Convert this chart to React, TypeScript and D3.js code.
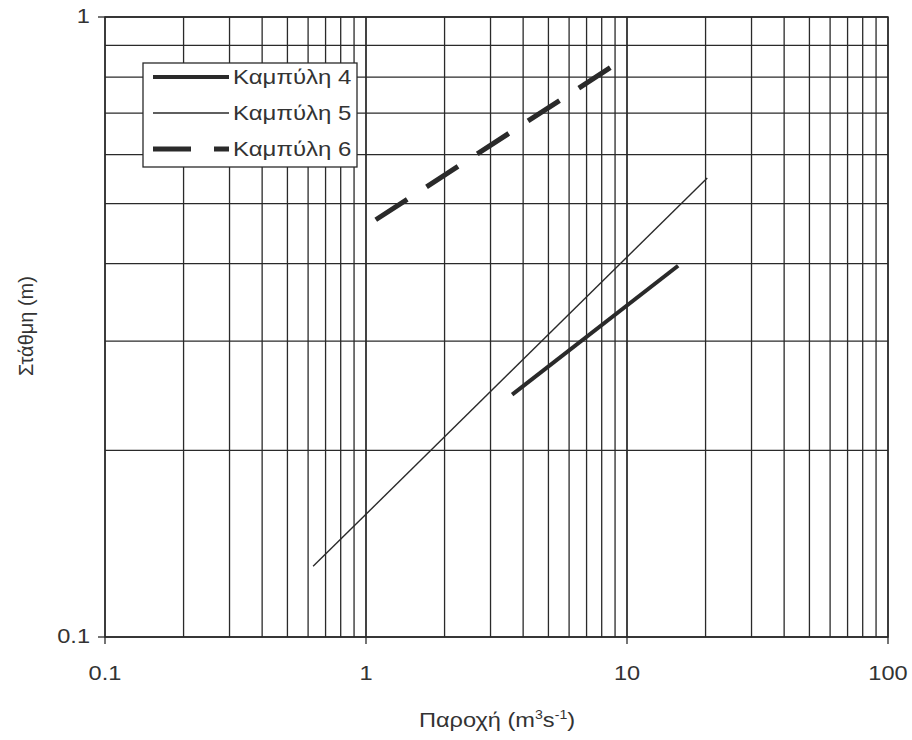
import React from "react";
import * as d3 from "d3";

// Καμπύλες στάθμης-παροχής (log-log)
const curve4Q = [3.63, 15.7];
const curve4H = [0.246, 0.397];
const curve5Q = [0.627, 20.3];
const curve5H = [0.13, 0.55];
const curve6Q = [1.09, 8.68];
const curve6H = [0.471, 0.83];

const xTickLabels = [0.1, 1, 10, 100];
const yTickLabels = [0.1, 1];
const legendNames = ["Καμπύλη 4", "Καμπύλη 5", "Καμπύλη 6"];

const INK = "#2a2a2a";
const TXT = "#333";
const FONT = "'Liberation Sans', Arial, sans-serif";
const SX = 1.18; // scanned text is a bit wide

function WideText(props: { x: number; y: number; anchor?: string; size?: number; sx?: number; children: React.ReactNode }) {
  const { x, y, anchor = "start", size = 20, sx = SX, children } = props;
  return (
    <g transform={`translate(${x},${y}) scale(${sx},1)`}>
      <text x={0} y={0} dy="0.35em" textAnchor={anchor} fontSize={size} fill={TXT}>
        {children}
      </text>
    </g>
  );
}

function App() {
  const width = 912;
  const height = 740;
  const margin = { top: 17, right: 24, bottom: 103, left: 105 };
  const innerW = width - margin.left - margin.right;
  const innerH = height - margin.top - margin.bottom;

  const x = d3.scaleLog().domain([0.1, 100]).range([0, innerW]);
  const y = d3.scaleLog().domain([0.1, 1]).range([innerH, 0]);

  const xGrid: number[] = [];
  [0.1, 1, 10].forEach((d) => {
    for (let k = 1; k <= 10; k++) xGrid.push(d * k);
  });
  const yGrid: number[] = [];
  for (let k = 1; k <= 10; k++) yGrid.push(0.1 * k);

  const line = d3
    .line<[number, number]>()
    .x((d) => x(d[0]))
    .y((d) => y(d[1]));

  const series = [
    { q: curve4Q, h: curve4H, w: 4, dash: undefined as string | undefined },
    { q: curve5Q, h: curve5H, w: 1.4, dash: undefined as string | undefined },
    { q: curve6Q, h: curve6H, w: 5, dash: "37.5,23" },
  ];

  const fmt = (d: number) => (d < 1 ? d.toFixed(1) : String(d));

  const legend = { x: 38, y: 46, w: 214, h: 104 };

  return (
    <svg
      width={width}
      height={height}
      style={{ position: "absolute", left: 0, top: 0, background: "#fff" }}
      fontFamily={FONT}
    >
      <g transform={`translate(${margin.left},${margin.top})`}>
        {xGrid.map((d, i) => (
          <line key={"xg" + i} x1={x(d)} x2={x(d)} y1={0} y2={innerH} stroke={INK} strokeWidth={1.3} />
        ))}
        {yGrid.map((d, i) => (
          <line key={"yg" + i} x1={0} x2={innerW} y1={y(d)} y2={y(d)} stroke={INK} strokeWidth={1.3} />
        ))}
        <rect x={0} y={0} width={innerW} height={innerH} fill="none" stroke={INK} strokeWidth={1.5} />

        {/* ticks */}
        {yTickLabels.map((d) => (
          <g key={"yt" + d}>
            <line x1={-7} x2={0} y1={y(d)} y2={y(d)} stroke={INK} strokeWidth={1.3} />
            <WideText x={-15} y={y(d) - 1} anchor="end">
              {fmt(d)}
            </WideText>
          </g>
        ))}
        {xTickLabels.map((d) => (
          <g key={"xt" + d}>
            <line x1={x(d)} x2={x(d)} y1={innerH} y2={innerH + 7} stroke={INK} strokeWidth={1.3} />
            <WideText x={x(d)} y={innerH + 36} anchor="middle">
              {fmt(d)}
            </WideText>
          </g>
        ))}

        {series.map((s, i) => (
          <path
            key={"s" + i}
            d={line(s.q.map((q, j) => [q, s.h[j]] as [number, number])) || ""}
            fill="none"
            stroke={INK}
            strokeWidth={s.w}
            strokeDasharray={s.dash}
          />
        ))}

        {/* legend */}
        <g transform={`translate(${legend.x},${legend.y})`}>
          <rect x={0} y={0} width={legend.w} height={legend.h} fill="#fff" stroke={INK} strokeWidth={1.3} />
          {legendNames.map((n, i) => {
            const s = series[i];
            const ly = 14 + i * 36;
            return (
              <g key={n}>
                <line
                  x1={10}
                  x2={86}
                  y1={ly}
                  y2={ly}
                  stroke={INK}
                  strokeWidth={s.w}
                  strokeDasharray={s.dash ? "38,23" : undefined}
                />
                <WideText x={90} y={ly} sx={1.2}>
                  {n}
                </WideText>
              </g>
            );
          })}
        </g>
      </g>

      <g transform={`translate(497,720) scale(${SX},1)`}>
        <text x={0} y={0} dy="0.35em" textAnchor="middle" fontSize={20} fill={TXT}>
          Παροχή (m
          <tspan fontSize={12} dy={-8}>3</tspan>
          <tspan dy={8}>s</tspan>
          <tspan fontSize={12} dy={-8}>-1</tspan>
          <tspan dy={8}>)</tspan>
        </text>
      </g>
      <text
        transform="translate(33,326) rotate(-90)"
        textAnchor="middle"
        fontSize={20}
        fill={TXT}
      >
        Στάθμη (m)
      </text>
    </svg>
  );
}

export default App;
